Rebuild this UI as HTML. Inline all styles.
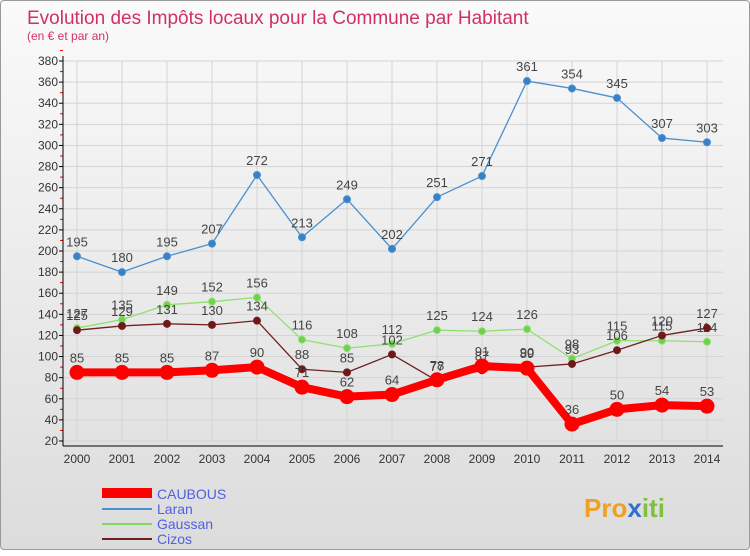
<!DOCTYPE html>
<html><head><meta charset="utf-8"><style>
body{margin:0;width:750px;height:550px;overflow:hidden;font-family:"Liberation Sans",sans-serif}
#c{position:absolute;left:0;top:0;width:748px;height:548px;border:1px solid #999;border-radius:4px;background:linear-gradient(#fafafa,#dcdcdc)}
</style></head><body>
<div id="c">
<svg width="750" height="550" id="s">
<text x="26" y="23" font-size="19" fill="#d0306a">Evolution des Impôts locaux pour la Commune par Habitant</text>
<text x="26" y="39" font-size="12" fill="#d0306a">(en € et par an)</text>
<g id="grid"></g><g id="axes"></g><g id="series"></g>
<g>
<rect x="101" y="487" width="50" height="10" fill="#f00"/>
<text x="156" y="498" font-size="14" fill="#5060e0">CAUBOUS</text>
<line x1="101" y1="508" x2="151" y2="508" stroke="#4a90d0" stroke-width="2"/>
<text x="156" y="513" font-size="14" fill="#5060e0">Laran</text>
<line x1="101" y1="523" x2="151" y2="523" stroke="#80d860" stroke-width="2"/>
<text x="156" y="528" font-size="14" fill="#5060e0">Gaussan</text>
<line x1="101" y1="538" x2="151" y2="538" stroke="#702020" stroke-width="2"/>
<text x="156" y="543" font-size="14" fill="#5060e0">Cizos</text>
</g>
<text x="583" y="516" font-size="26" font-weight="bold" fill="#f0a020">Pro<tspan fill="#3070d0">x</tspan><tspan fill="#80c040">iti</tspan></text>
</svg></div>
<script>
const years=[2000,2001,2002,2003,2004,2005,2006,2007,2008,2009,2010,2011,2012,2013,2014];
const caubous=[85,85,85,87,90,71,62,64,78,91,89,36,50,54,53];
const laran=[195,180,195,207,272,213,249,202,251,271,361,354,345,307,303];
const gaussan=[127,135,149,152,156,116,108,112,125,124,126,98,115,115,114];
const cizos=[125,129,131,130,134,88,85,102,77,87,90,93,106,120,127];
const yTicks=[20,40,60,80,100,120,140,160,180,200,220,240,260,280,300,320,340,360,380];
const NS="http://www.w3.org/2000/svg";
const X=i=>76+i*45;
const Y=v=>440-(v-20)*380/360;
function mk(t,a,p){const e=document.createElementNS(NS,t);for(const k in a)e.setAttribute(k,a[k]);p.appendChild(e);return e;}
const grid=document.getElementById('grid'),axes=document.getElementById('axes'),ser=document.getElementById('series');
yTicks.forEach(v=>{
 const l=mk('line',{x1:62,x2:722,y1:Y(v),y2:Y(v),stroke:'#d4d4d4','stroke-width':1},grid);
 
 
 const t=mk('text',{x:57,y:Y(v)+4,'font-size':12,fill:'#333','text-anchor':'end'},axes);
 t.textContent=v;
 
 
 mk('line',{x1:58,x2:62,y1:Y(v),y2:Y(v),stroke:'#000'},axes);
 mk('line',{x1:59,x2:62,y1:Y(v+10),y2:Y(v+10),stroke:'#e00'},axes);
});
years.forEach((y,i)=>{
 mk('line',{x1:X(i),x2:X(i),y1:60,y2:440,stroke:'#d4d4d4'},grid);
 const t=mk('text',{x:X(i),y:462,'font-size':12,fill:'#333','text-anchor':'middle'},axes);
 t.textContent=y;
 
 
});
mk('line',{x1:62,x2:62,y1:55,y2:445,stroke:'#000'},axes);
mk('line',{x1:62,x2:722,y1:445,y2:445,stroke:'#000'},axes);
function series(name,data,col,w,r,dot){
 const g=mk('g',{},ser);
 
 
 const p=mk('polyline',{points:data.map((v,i)=>X(i)+','+Y(v)).join(' '),fill:'none',stroke:col,'stroke-width':w,'stroke-linejoin':'round'},g);
 
 
 data.forEach((v,i)=>{
  const c=mk('circle',{cx:X(i),cy:Y(v),r:r,fill:dot,stroke:col,'stroke-width':1},g);
  
  
  const t=mk('text',{x:X(i),y:Y(v)-10,'font-size':13,fill:'#444','text-anchor':'middle'},g);
  t.textContent=v;
  
  
 });
}
series('laran',laran,'#4a90d0',1.3,3.5,'#3a80c8');
series('gaussan',gaussan,'#90e070',1.3,3.5,'#70d050');
series('cizos',cizos,'#702020',1.3,3.5,'#701818');
series('caubous',caubous,'#f00',8,7,'#f00');
</script>
</body></html>
